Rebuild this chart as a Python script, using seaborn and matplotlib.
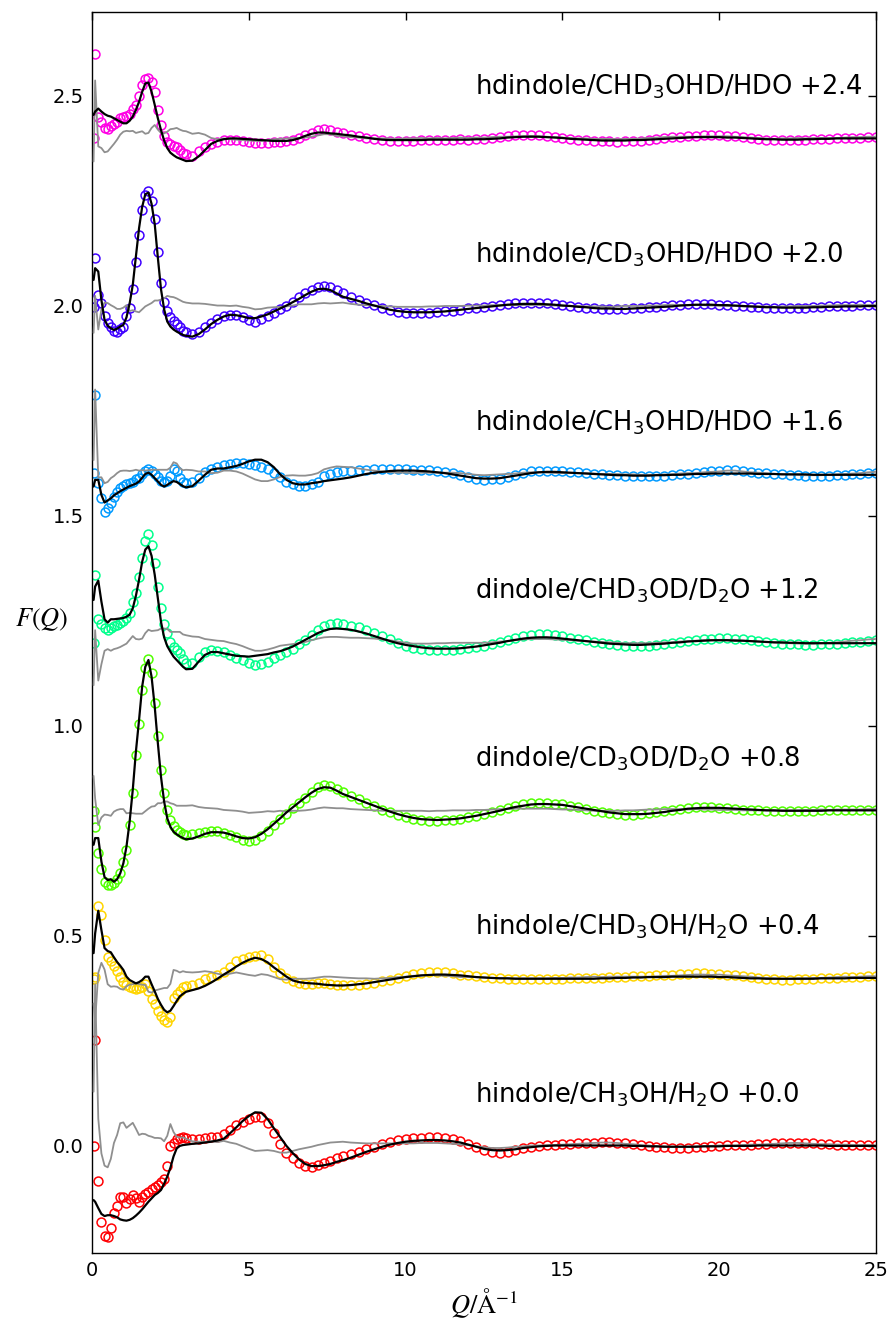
import numpy as np
import matplotlib
matplotlib.use("Agg")
import matplotlib.pyplot as plt
import seaborn as sns

sns.set_style("white")
plt.rcParams['font.family'] = ['DejaVu Sans']
plt.rcParams['mathtext.fontset'] = 'dejavusans'
for k in ['text.color', 'axes.labelcolor', 'xtick.color', 'ytick.color', 'axes.edgecolor']:
    plt.rcParams[k] = 'black'

# Q grid (1/Angstrom)
Q = np.concatenate([[0.05], np.arange(1, 31) / 10, np.arange(16, 41) / 5, np.arange(33, 101) / 4])

offsets = [0.0, 0.4, 0.8, 1.2, 1.6, 2.0, 2.4]
labels = [
    "hindole/CH$_3$OH/H$_2$O +0.0",
    "hindole/CHD$_3$OH/H$_2$O +0.4",
    "dindole/CD$_3$OD/D$_2$O +0.8",
    "dindole/CHD$_3$OD/D$_2$O +1.2",
    "hdindole/CH$_3$OHD/HDO +1.6",
    "hdindole/CD$_3$OHD/HDO +2.0",
    "hdindole/CHD$_3$OHD/HDO +2.4",
]

# ---------------- series 0.0 ----------------
data_00 = [0.000,
    0.252, -0.083, -0.180, -0.214, -0.216, -0.196, -0.160, -0.144, -0.121, -0.121,
    -0.135, -0.127, -0.117, -0.125, -0.133, -0.122, -0.114, -0.109, -0.103, -0.098,
    -0.093, -0.087, -0.079, -0.049, 0.000, 0.008, 0.016, 0.020, 0.022, 0.020,
    0.016, 0.016, 0.018, 0.021, 0.022,
    0.029, 0.038, 0.049, 0.058, 0.064, 0.068, 0.068, 0.054, 0.030, 0.005,
    -0.016, -0.029, -0.040, -0.048, -0.050, -0.046, -0.041, -0.035, -0.029, -0.024,
    -0.020, -0.014, -0.008, -0.002, 0.004, 0.009, 0.013, 0.016,
    0.018, 0.020, 0.021, 0.021, 0.019, 0.016, 0.011, 0.005,
    -0.003, -0.010, -0.015, -0.016, -0.014, -0.010, -0.006, -0.002,
    0.000, 0.002, 0.003, 0.004, 0.005, 0.006, 0.007, 0.008,
    0.009, 0.009, 0.008, 0.006, 0.004, 0.002, 0.000, -0.002,
    -0.003, -0.004, -0.004, -0.004, -0.003, -0.002, -0.001, 0.000,
    0.001, 0.001, 0.002, 0.003, 0.004, 0.005, 0.006, 0.007,
    0.008, 0.008, 0.007, 0.006, 0.005, 0.004, 0.003, 0.003,
    0.002, 0.002, 0.002, 0.001]
fit_00 = [-0.129,
    -0.133, -0.148, -0.162, -0.167, -0.165, -0.165, -0.167, -0.170, -0.175, -0.177,
    -0.178, -0.176, -0.172, -0.166, -0.159, -0.151, -0.142, -0.133, -0.125, -0.117,
    -0.112, -0.105, -0.090, -0.073, -0.052, -0.025, -0.006, 0.000, 0.002, 0.003,
    0.005, 0.006, 0.008, 0.010, 0.013,
    0.017, 0.030, 0.044, 0.059, 0.071, 0.080, 0.079, 0.064, 0.042, 0.021,
    0.000, -0.017, -0.032, -0.043, -0.048, -0.048, -0.046, -0.043, -0.038, -0.034,
    -0.028, -0.021, -0.014, -0.008, -0.002, 0.003, 0.007, 0.010,
    0.012, 0.013, 0.014, 0.014, 0.013, 0.011, 0.008, 0.003,
    -0.002, -0.007, -0.010, -0.011, -0.010, -0.008, -0.005, -0.003,
    -0.001, 0.000, 0.001, 0.001, 0.001, 0.001, 0.001, 0.001,
    0.001, 0.001, 0.001, 0.001, 0.000, 0.000, -0.001, -0.001,
    -0.002, -0.002, -0.002, -0.002, -0.002, -0.001, -0.001, -0.001,
    0.000, 0.000, 0.000, 0.000, 0.001, 0.001, 0.001, 0.001,
    0.001, 0.001, 0.001, 0.001, 0.001, 0.000, 0.000, 0.000,
    0.000, 0.000, 0.000, 0.000]

# ---------------- series 0.4 ----------------
data_04 = [-0.002,
    0.002, 0.172, 0.150, 0.091, 0.049, 0.040, 0.029, 0.017, 0.003, -0.009,
    -0.017, -0.021, -0.024, -0.026, -0.025, -0.021, -0.014, -0.030, -0.050, -0.062,
    -0.078, -0.090, -0.100, -0.106, -0.092, -0.048, -0.038, -0.031, -0.022, -0.019,
    -0.016, -0.011, -0.003, 0.003, 0.008,
    0.015, 0.027, 0.040, 0.046, 0.050, 0.053, 0.054, 0.044, 0.027, 0.011,
    -0.001, -0.008, -0.012, -0.014, -0.014, -0.013, -0.013, -0.014, -0.016, -0.017,
    -0.017, -0.016, -0.014, -0.012, -0.008, -0.004, 0.001, 0.005,
    0.009, 0.012, 0.014, 0.014, 0.013, 0.011, 0.008, 0.006,
    0.004, 0.002, 0.000, -0.001, -0.002, -0.003, -0.003, -0.003,
    -0.003, -0.003, -0.002, -0.002, -0.001, -0.001, 0.000, 0.001,
    0.001, 0.002, 0.003, 0.003, 0.004, 0.004, 0.005, 0.006,
    0.007, 0.008, 0.009, 0.010, 0.011, 0.011, 0.010, 0.010,
    0.008, 0.006, 0.004, 0.002, 0.000, -0.002, -0.003, -0.004,
    -0.004, -0.003, -0.003, -0.002, -0.001, 0.000, 0.001, 0.002,
    0.002, 0.003, 0.004, 0.004]
fit_04 = [0.059,
    0.106, 0.160, 0.114, 0.071, 0.064, 0.061, 0.049, 0.038, 0.029, 0.019,
    0.003, -0.005, -0.009, -0.013, -0.010, -0.005, 0.003, 0.003, -0.015, -0.032,
    -0.050, -0.064, -0.076, -0.082, -0.078, -0.067, -0.055, -0.044, -0.038, -0.033,
    -0.029, -0.025, -0.019, -0.011, -0.002,
    0.008, 0.017, 0.027, 0.036, 0.043, 0.048, 0.045, 0.037, 0.025, 0.014,
    0.003, -0.006, -0.010, -0.012, -0.013, -0.014, -0.016, -0.017, -0.018, -0.018,
    -0.017, -0.015, -0.013, -0.010, -0.007, -0.004, -0.001, 0.002,
    0.004, 0.006, 0.007, 0.008, 0.008, 0.007, 0.006, 0.004,
    0.002, 0.001, 0.000, -0.001, -0.001, -0.002, -0.002, -0.002,
    -0.002, -0.002, -0.002, -0.002, -0.002, -0.002, -0.002, -0.002,
    -0.001, -0.001, 0.000, 0.000, 0.001, 0.001, 0.002, 0.002,
    0.002, 0.003, 0.003, 0.003, 0.003, 0.003, 0.003, 0.002,
    0.002, 0.001, 0.000, -0.001, -0.001, -0.002, -0.002, -0.002,
    -0.002, -0.002, -0.002, -0.002, -0.001, -0.001, -0.001, -0.001,
    0.000, 0.000, 0.000, 0.000]

# ---------------- series 0.8 ----------------
data_08 = [-0.002,
    -0.040, -0.103, -0.141, -0.171, -0.179, -0.179, -0.175, -0.165, -0.149, -0.125,
    -0.095, -0.035, 0.040, 0.130, 0.205, 0.285, 0.338, 0.360, 0.325, 0.255,
    0.175, 0.095, 0.040, 0.000, -0.024, -0.038, -0.048, -0.053, -0.057, -0.060,
    -0.057, -0.056, -0.052, -0.049, -0.050,
    -0.054, -0.059, -0.065, -0.071, -0.075, -0.071, -0.062, -0.049, -0.037, -0.022,
    -0.010, 0.004, 0.016, 0.029, 0.042, 0.054, 0.060, 0.058, 0.050, 0.042,
    0.033, 0.025, 0.017, 0.009, 0.001, -0.006, -0.012, -0.017,
    -0.021, -0.024, -0.026, -0.026, -0.025, -0.023, -0.021, -0.018,
    -0.014, -0.010, -0.005, 0.000, 0.005, 0.010, 0.013, 0.016,
    0.017, 0.017, 0.015, 0.013, 0.010, 0.006, 0.002, -0.002,
    -0.005, -0.008, -0.010, -0.011, -0.011, -0.010, -0.008, -0.006,
    -0.003, 0.000, 0.002, 0.004, 0.006, 0.006, 0.006, 0.005,
    0.004, 0.003, 0.001, 0.000, -0.001, -0.002, -0.003, -0.003,
    -0.003, -0.003, -0.002, -0.002, -0.001, -0.001, 0.000, 0.000,
    0.000, 0.000, 0.001, 0.001]
fit_08 = [-0.083,
    -0.067, -0.067, -0.123, -0.160, -0.167, -0.165, -0.171, -0.165, -0.151, -0.127,
    -0.087, -0.028, 0.048, 0.139, 0.214, 0.294, 0.341, 0.357, 0.317, 0.246,
    0.159, 0.079, 0.020, -0.020, -0.040, -0.052, -0.058, -0.063, -0.067, -0.070,
    -0.068, -0.063, -0.057, -0.053, -0.053,
    -0.054, -0.058, -0.063, -0.067, -0.068, -0.065, -0.057, -0.046, -0.033, -0.020,
    -0.006, 0.006, 0.018, 0.030, 0.041, 0.050, 0.054, 0.053, 0.046, 0.038,
    0.031, 0.024, 0.017, 0.010, 0.003, -0.004, -0.010, -0.015,
    -0.019, -0.022, -0.023, -0.024, -0.023, -0.022, -0.020, -0.017,
    -0.014, -0.010, -0.006, -0.002, 0.003, 0.007, 0.010, 0.013,
    0.014, 0.014, 0.013, 0.012, 0.009, 0.006, 0.003, 0.000,
    -0.003, -0.006, -0.008, -0.010, -0.010, -0.010, -0.009, -0.007,
    -0.005, -0.002, 0.000, 0.003, 0.004, 0.005, 0.005, 0.005,
    0.004, 0.003, 0.002, 0.001, 0.000, -0.001, -0.001, -0.002,
    -0.002, -0.002, -0.002, -0.002, -0.002, -0.001, -0.001, -0.001,
    -0.001, -0.001, -0.001, -0.001]

# ---------------- series 1.2 ----------------
data_12 = [-0.003,
    0.160, 0.054, 0.043, 0.033, 0.029, 0.033, 0.037, 0.040, 0.044, 0.049,
    0.056, 0.070, 0.094, 0.117, 0.154, 0.199, 0.241, 0.257, 0.231, 0.187,
    0.132, 0.080, 0.043, 0.021, 0.001, -0.011, -0.019, -0.027, -0.041, -0.049,
    -0.051, -0.035, -0.024, -0.019, -0.021,
    -0.025, -0.032, -0.038, -0.044, -0.051, -0.054, -0.052, -0.047, -0.039, -0.031,
    -0.024, -0.016, -0.006, 0.005, 0.017, 0.029, 0.038, 0.043, 0.044, 0.042,
    0.039, 0.035, 0.029, 0.022, 0.014, 0.006, -0.002, -0.009,
    -0.014, -0.017, -0.019, -0.019, -0.019, -0.018, -0.017, -0.015,
    -0.013, -0.010, -0.006, -0.001, 0.004, 0.009, 0.014, 0.017,
    0.018, 0.018, 0.016, 0.013, 0.010, 0.007, 0.004, 0.001,
    -0.002, -0.005, -0.007, -0.009, -0.010, -0.010, -0.009, -0.007,
    -0.005, -0.003, 0.000, 0.003, 0.005, 0.007, 0.008, 0.009,
    0.009, 0.008, 0.006, 0.004, 0.002, 0.000, -0.002, -0.004,
    -0.005, -0.006, -0.007, -0.007, -0.006, -0.005, -0.004, -0.002,
    0.000, 0.001, 0.003, 0.004]
fit_12 = [0.100,
    0.132, 0.146, 0.096, 0.054, 0.046, 0.054, 0.054, 0.055, 0.056, 0.057,
    0.060, 0.065, 0.080, 0.110, 0.148, 0.191, 0.220, 0.228, 0.205, 0.160,
    0.104, 0.048, 0.011, -0.010, -0.023, -0.035, -0.043, -0.051, -0.059, -0.065,
    -0.064, -0.047, -0.031, -0.024, -0.024,
    -0.027, -0.030, -0.033, -0.034, -0.035, -0.033, -0.031, -0.029, -0.025, -0.022,
    -0.017, -0.011, -0.003, 0.005, 0.013, 0.021, 0.027, 0.031, 0.032, 0.031,
    0.029, 0.025, 0.020, 0.014, 0.008, 0.002, -0.003, -0.007,
    -0.010, -0.013, -0.015, -0.016, -0.016, -0.016, -0.015, -0.013,
    -0.011, -0.008, -0.005, -0.002, 0.002, 0.005, 0.008, 0.010,
    0.011, 0.011, 0.010, 0.008, 0.006, 0.004, 0.002, 0.000,
    -0.002, -0.004, -0.005, -0.006, -0.007, -0.007, -0.006, -0.005,
    -0.004, -0.002, -0.001, 0.001, 0.002, 0.003, 0.004, 0.004,
    0.004, 0.003, 0.003, 0.002, 0.001, 0.000, -0.001, -0.001,
    -0.002, -0.002, -0.003, -0.003, -0.003, -0.003, -0.003, -0.003,
    -0.003, -0.003, -0.003, -0.003]

# ---------------- series 1.6 ----------------
data_16 = [0.003,
    0.187, -0.022, -0.058, -0.090, -0.082, -0.068, -0.056, -0.044, -0.034, -0.029,
    -0.025, -0.022, -0.018, -0.013, -0.010, 0.000, 0.008, 0.012, 0.008, 0.000,
    -0.008, -0.016, -0.020, -0.016, -0.006, 0.011, 0.006, -0.010, -0.020, -0.022,
    -0.020, -0.010, 0.004, 0.012, 0.016,
    0.021, 0.024, 0.025, 0.025, 0.024, 0.021, 0.017, 0.011, 0.003, -0.008,
    -0.018, -0.025, -0.029, -0.029, -0.024, -0.018, -0.006, 0.000, 0.005, 0.006,
    0.008, 0.009, 0.010, 0.011, 0.011, 0.011, 0.011, 0.011,
    0.010, 0.010, 0.009, 0.007, 0.005, 0.002, -0.002, -0.007,
    -0.012, -0.014, -0.013, -0.011, -0.007, -0.003, 0.002, 0.006,
    0.008, 0.008, 0.007, 0.006, 0.005, 0.004, 0.003, 0.001,
    -0.001, -0.002, -0.003, -0.004, -0.005, -0.006, -0.006, -0.005,
    -0.004, -0.003, -0.001, 0.001, 0.002, 0.004, 0.006, 0.007,
    0.009, 0.009, 0.007, 0.005, 0.003, 0.002, 0.000, -0.001,
    -0.002, -0.003, -0.004, -0.005, -0.005, -0.004, -0.003, -0.002,
    -0.001, 0.000, 0.002, 0.003]
fit_16 = [-0.030,
    -0.014, -0.014, -0.050, -0.068, -0.063, -0.058, -0.051, -0.046, -0.041, -0.037,
    -0.033, -0.029, -0.026, -0.023, -0.018, -0.009, 0.000, 0.003, -0.002, -0.010,
    -0.018, -0.026, -0.030, -0.026, -0.021, -0.017, -0.019, -0.024, -0.029, -0.032,
    -0.029, -0.016, -0.002, 0.010, 0.013,
    0.013, 0.016, 0.019, 0.024, 0.030, 0.034, 0.034, 0.028, 0.016, -0.001,
    -0.014, -0.022, -0.025, -0.025, -0.022, -0.020, -0.017, -0.015, -0.013, -0.011,
    -0.008, -0.004, 0.000, 0.003, 0.005, 0.007, 0.008, 0.008,
    0.008, 0.007, 0.006, 0.004, 0.002, -0.001, -0.004, -0.007,
    -0.010, -0.011, -0.011, -0.010, -0.007, -0.004, -0.001, 0.002,
    0.004, 0.005, 0.005, 0.004, 0.003, 0.002, 0.001, 0.000,
    -0.001, -0.002, -0.003, -0.003, -0.004, -0.004, -0.004, -0.003,
    -0.003, -0.002, -0.002, -0.001, 0.000, 0.000, 0.001, 0.001,
    0.001, 0.001, 0.001, 0.001, 0.000, 0.000, 0.000, -0.001,
    -0.001, -0.001, -0.001, -0.002, -0.002, -0.002, -0.002, -0.002,
    -0.002, -0.002, -0.002, -0.002]

# ---------------- series 2.0 ----------------
data_20 = [-0.002,
    0.114, 0.026, 0.006, -0.025, -0.040, -0.051, -0.059, -0.061, -0.056, -0.049,
    -0.025, -0.006, 0.040, 0.105, 0.170, 0.228, 0.265, 0.273, 0.250, 0.208,
    0.128, 0.055, 0.010, -0.013, -0.027, -0.035, -0.043, -0.051, -0.059, -0.063,
    -0.067, -0.061, -0.051, -0.040, -0.032,
    -0.024, -0.021, -0.021, -0.027, -0.033, -0.037, -0.032, -0.024, -0.016, -0.008,
    0.000, 0.010, 0.021, 0.030, 0.038, 0.046, 0.048, 0.044, 0.037, 0.030,
    0.022, 0.015, 0.008, 0.002, -0.004, -0.010, -0.014, -0.016,
    -0.017, -0.017, -0.016, -0.015, -0.013, -0.011, -0.009, -0.006,
    -0.004, -0.002, 0.001, 0.003, 0.005, 0.006, 0.007, 0.007,
    0.007, 0.006, 0.004, 0.002, 0.000, -0.002, -0.004, -0.006,
    -0.007, -0.008, -0.008, -0.007, -0.006, -0.005, -0.003, -0.002,
    0.000, 0.002, 0.003, 0.004, 0.005, 0.005, 0.004, 0.003,
    0.002, 0.001, -0.001, -0.002, -0.003, -0.004, -0.005, -0.005,
    -0.005, -0.004, -0.004, -0.003, -0.002, -0.001, 0.000, 0.001,
    0.001, 0.002, 0.002, 0.002]
fit_20 = [0.062,
    0.090, 0.082, 0.014, -0.033, -0.047, -0.053, -0.057, -0.054, -0.049, -0.045,
    -0.027, 0.006, 0.050, 0.118, 0.185, 0.236, 0.266, 0.270, 0.243, 0.195,
    0.115, 0.040, -0.008, -0.037, -0.049, -0.056, -0.061, -0.065, -0.069, -0.071,
    -0.073, -0.067, -0.056, -0.043, -0.033,
    -0.025, -0.021, -0.022, -0.025, -0.029, -0.029, -0.025, -0.020, -0.013, -0.006,
    0.001, 0.009, 0.017, 0.026, 0.034, 0.040, 0.041, 0.038, 0.030, 0.022,
    0.017, 0.012, 0.006, 0.001, -0.004, -0.009, -0.012, -0.014,
    -0.015, -0.015, -0.015, -0.014, -0.013, -0.011, -0.009, -0.007,
    -0.005, -0.003, -0.001, 0.001, 0.003, 0.004, 0.005, 0.005,
    0.005, 0.004, 0.003, 0.001, 0.000, -0.002, -0.003, -0.005,
    -0.006, -0.006, -0.007, -0.007, -0.006, -0.005, -0.004, -0.003,
    -0.002, -0.001, 0.001, 0.002, 0.003, 0.003, 0.003, 0.002,
    0.002, 0.001, 0.000, -0.001, -0.002, -0.003, -0.003, -0.004,
    -0.004, -0.004, -0.004, -0.003, -0.003, -0.002, -0.002, -0.001,
    -0.001, -0.001, 0.000, 0.000]

# ---------------- series 2.4 ----------------
data_24 = [-0.001,
    0.200, 0.050, 0.039, 0.023, 0.021, 0.028, 0.033, 0.039, 0.047, 0.050,
    0.052, 0.057, 0.068, 0.079, 0.100, 0.126, 0.140, 0.144, 0.134, 0.110,
    0.067, 0.031, 0.005, -0.009, -0.014, -0.019, -0.022, -0.029, -0.035, -0.039,
    -0.044, -0.032, -0.021, -0.014, -0.010,
    -0.004, -0.004, -0.005, -0.007, -0.009, -0.011, -0.012, -0.011, -0.010, -0.009,
    -0.008, -0.005, -0.001, 0.006, 0.013, 0.019, 0.022, 0.020, 0.015, 0.012,
    0.008, 0.004, 0.000, -0.003, -0.005, -0.006, -0.007, -0.006,
    -0.006, -0.005, -0.005, -0.004, -0.005, -0.004, -0.003, -0.004,
    -0.002, -0.002, 0.000, 0.002, 0.004, 0.006, 0.007, 0.008,
    0.007, 0.005, 0.003, 0.001, -0.002, -0.004, -0.005, -0.007,
    -0.008, -0.008, -0.009, -0.008, -0.007, -0.006, -0.004, -0.002,
    0.000, 0.002, 0.003, 0.004, 0.005, 0.006, 0.006, 0.006,
    0.005, 0.004, 0.002, 0.000, -0.002, -0.004, -0.005, -0.005,
    -0.005, -0.004, -0.004, -0.003, -0.002, -0.002, -0.001, 0.000,
    0.001, 0.001, 0.002, 0.002]
fit_24 = [0.055,
    0.063, 0.070, 0.063, 0.057, 0.053, 0.051, 0.047, 0.043, 0.039, 0.035,
    0.035, 0.041, 0.051, 0.067, 0.086, 0.110, 0.130, 0.132, 0.110, 0.079,
    0.047, 0.019, -0.006, -0.024, -0.035, -0.041, -0.046, -0.049, -0.052, -0.055,
    -0.054, -0.044, -0.029, -0.014, -0.007,
    -0.003, -0.001, -0.001, -0.002, -0.003, -0.004, -0.005, -0.006, -0.007, -0.007,
    -0.007, -0.005, -0.001, 0.005, 0.010, 0.013, 0.013, 0.011, 0.010, 0.008,
    0.006, 0.003, 0.001, -0.002, -0.004, -0.005, -0.005, -0.005,
    -0.005, -0.005, -0.004, -0.004, -0.004, -0.004, -0.004, -0.004,
    -0.003, -0.003, -0.002, -0.001, 0.001, 0.002, 0.003, 0.003,
    0.003, 0.002, 0.001, 0.000, -0.002, -0.003, -0.004, -0.005,
    -0.006, -0.006, -0.006, -0.006, -0.005, -0.005, -0.004, -0.003,
    -0.002, -0.001, 0.000, 0.001, 0.002, 0.002, 0.002, 0.002,
    0.001, 0.001, 0.000, -0.001, -0.002, -0.003, -0.003, -0.004,
    -0.004, -0.004, -0.003, -0.003, -0.002, -0.002, -0.001, -0.001,
    -0.001, -0.001, -0.001, -0.001]

data_sets = [data_00, data_04, data_08, data_12, data_16, data_20, data_24]
fit_sets = [fit_00, fit_04, fit_08, fit_12, fit_16, fit_20, fit_24]
for d, f in zip(data_sets, fit_sets):
    assert len(d) == len(Q) and len(f) == len(Q), (len(d), len(f), len(Q))

colors = plt.cm.gist_rainbow(np.linspace(0.03, 0.97, 7))

fig = plt.figure(figsize=(8.95, 13.26), dpi=100)
ax = fig.add_axes([92 / 895, 73 / 1326, 784 / 895, 1241 / 1326])

for off, lab, d, f, col in zip(offsets, labels, data_sets, fit_sets, colors):
    d = np.asarray(d)
    f = np.asarray(f)
    sns.lineplot(x=Q, y=d + off, ax=ax, estimator=None, sort=False,
                 linestyle='none', marker='o', markersize=6.4,
                 markerfacecolor='none', markeredgecolor=col, markeredgewidth=1.1,
                 color=col, zorder=2, legend=False)
    sns.lineplot(x=Q, y=(d - f) + off, ax=ax, estimator=None, sort=False,
                 color='#8f8f8f', linewidth=1.3, zorder=3, legend=False)
    sns.lineplot(x=Q, y=f + off, ax=ax, estimator=None, sort=False,
                 color='black', linewidth=1.6, zorder=4, legend=False)
    ax.text(12.2, off + 0.122, lab, fontsize=18.5, ha='left', va='center', color='black')

ax.set_xlim(0, 25)
ax.set_ylim(-0.255, 2.70)
ax.set_xticks([0, 5, 10, 15, 20, 25])
ax.set_yticks([0.0, 0.5, 1.0, 1.5, 2.0, 2.5])
ax.set_yticklabels(['0.0', '0.5', '1.0', '1.5', '2.0', '2.5'])
ax.tick_params(direction='in', top=True, right=True, length=6, width=1,
               labelsize=14, pad=6, colors='black')
for sp in ax.spines.values():
    sp.set_linewidth(1.0)
    sp.set_color('black')

ax.set_xlabel(r'$Q/\mathrm{\AA}^{-1}$', fontsize=19, math_fontfamily='stix', labelpad=4)
ax.set_ylabel(r'$F(Q)$', fontsize=19, math_fontfamily='stix', rotation=0,
              ha='center', va='center')
ax.yaxis.set_label_coords(-0.064, 0.51)

fig.savefig('out.png', dpi=100)
